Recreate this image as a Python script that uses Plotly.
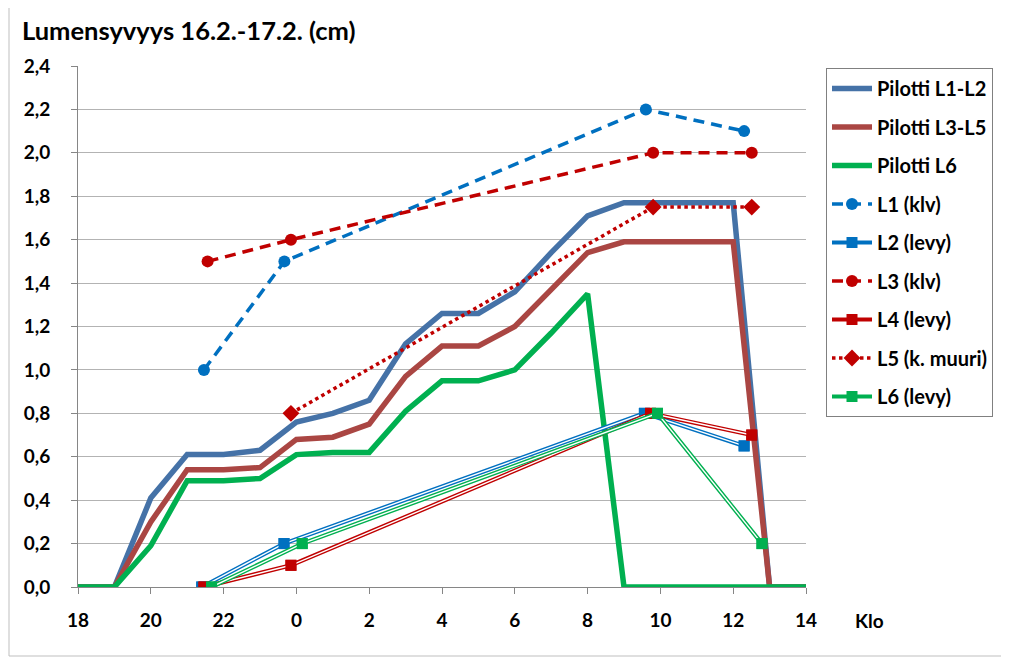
import plotly.graph_objects as go

# ---------------- data ----------------
hours = list(range(18, 39))  # 18:00 .. 14:00 next day (hours since midnight of day 1)
pilotti_l1_l2 = [0, 0, 0.41, 0.61, 0.61, 0.63, 0.76, 0.80, 0.86, 1.12, 1.26, 1.26, 1.36, 1.54, 1.71, 1.77, 1.77, 1.77, 1.77, 0, 0]
pilotti_l3_l5 = [0, 0, 0.30, 0.54, 0.54, 0.55, 0.68, 0.69, 0.75, 0.97, 1.11, 1.11, 1.20, 1.37, 1.54, 1.59, 1.59, 1.59, 1.59, 0, 0]
pilotti_l6 = [0, 0, 0.19, 0.49, 0.49, 0.50, 0.61, 0.62, 0.62, 0.81, 0.95, 0.95, 1.00, 1.17, 1.35, 0, 0, 0, 0, 0, 0]

l1_x = [21.46, 23.67, 33.60, 36.30]
l1_y = [1.0, 1.5, 2.2, 2.1]
l2_x = [21.40, 23.66, 33.56, 36.30]
l2_y = [0.0, 0.2, 0.8, 0.65]
l3_x = [21.56, 23.85, 33.80, 36.51]
l3_y = [1.5, 1.6, 2.0, 2.0]
l4_x = [21.46, 23.85, 33.73, 36.51]
l4_y = [0.0, 0.1, 0.8, 0.7]
l5_x = [23.85, 33.80, 36.51]
l5_y = [0.8, 1.75, 1.75]
l6_x = [21.67, 24.16, 33.92, 36.79]
l6_y = [0.0, 0.2, 0.8, 0.2]

x_tickvals = list(range(18, 39, 2))
x_ticktext = ["18", "20", "22", "0", "2", "4", "6", "8", "10", "12", "14"]
y_tickvals = [round(0.2 * i, 1) for i in range(13)]

title_text = "Lumensyvyys 16.2.-17.2. (cm)"
x_unit = "Klo"

# ---------------- styles ----------------
FONT = "Lato"
C_BLUE_THICK = "#4572A7"
C_RED_THICK = "#AA4643"
C_GREEN = "#00B050"
C_BLUE = "#0070C0"
C_RED = "#C00000"

fig = go.Figure()

def thick(name, y, color):
    fig.add_trace(go.Scatter(x=hours, y=y, mode="lines", name=name, legendgroup=name,
                             line=dict(color=color, width=5.5)))

thick("Pilotti L1-L2", pilotti_l1_l2, C_BLUE_THICK)
thick("Pilotti L3-L5", pilotti_l3_l5, C_RED_THICK)
thick("Pilotti L6", pilotti_l6, C_GREEN)

def dashed(name, x, y, color, dash, symbol, size):
    fig.add_trace(go.Scatter(x=x, y=y, mode="lines+markers", name=name, legendgroup=name,
                             line=dict(color=color, width=3.5, dash=dash),
                             marker=dict(symbol=symbol, size=size, color=color)))

def double(name, x, y, color):
    fig.add_trace(go.Scatter(x=x, y=y, mode="lines+markers", name=name, legendgroup=name,
                             line=dict(color=color, width=4.2),
                             marker=dict(symbol="square", size=11, color=color)))
    fig.add_trace(go.Scatter(x=x, y=y, mode="lines", showlegend=False, legendgroup=name,
                             hoverinfo="skip", line=dict(color="white", width=1.4)))
    fig.add_trace(go.Scatter(x=x, y=y, mode="markers", showlegend=False, legendgroup=name,
                             hoverinfo="skip", marker=dict(symbol="square", size=11, color=color)))

dashed("L1 (klv)", l1_x, l1_y, C_BLUE, "11px,7px", "circle", 12)
double("L2 (levy)", l2_x, l2_y, C_BLUE)
dashed("L3 (klv)", l3_x, l3_y, C_RED, "11px,7px", "circle", 12)
double("L4 (levy)", l4_x, l4_y, C_RED)
dashed("L5 (k. muuri)", l5_x, l5_y, C_RED, "dot", "diamond", 13)
double("L6 (levy)", l6_x, l6_y, C_GREEN)

# page body has an 8px margin; work in screen pixels and convert
OFF = 8
W, H = 1009 - OFF, 661 - OFF
L, T = 78 - OFF, 66 - OFF
R = W - (806 - OFF)
B = H - (587 - OFF)
pw, ph = W - L - R, H - T - B

def px(xs):
    return (xs - OFF - L) / pw

def py(ys):
    return (H - B - (ys - OFF)) / ph

fig.update_layout(
    width=W, height=H,
    margin=dict(l=L, r=R, t=T, b=B),
    paper_bgcolor="white", plot_bgcolor="white",
    separators=", ",
    font=dict(family=FONT, size=16, color="black"),
    showlegend=True,
    legend=dict(x=px(826), y=py(68), xanchor="left", yanchor="top",
                bordercolor="#808080", borderwidth=1, bgcolor="white",
                font=dict(family=FONT, size=20, color="black", weight="bold"),
                tracegroupgap=9.5, itemwidth=40, traceorder="grouped"),
    xaxis=dict(range=[18, 38], tickvals=x_tickvals, ticktext=x_ticktext,
               showgrid=False, zeroline=False, showline=True, linecolor="#868686", linewidth=1,
               ticks="outside", ticklen=6, tickcolor="#868686",
               tickfont=dict(family=FONT, size=19, color="black", weight="bold"),
               ticklabelstandoff=10),
    yaxis=dict(range=[0, 2.4], tickvals=y_tickvals, tickformat=".1f",
               showgrid=True, gridcolor="#B3B3B3", gridwidth=1,
               zeroline=False, showline=True, linecolor="#868686", linewidth=1,
               ticks="outside", ticklen=6, tickcolor="#868686",
               tickfont=dict(family=FONT, size=19, color="black", weight="bold"),
               ticklabelstandoff=17),
    shapes=[dict(type="rect", xref="paper", yref="paper",
                 x0=px(9), x1=px(1004), y0=py(656), y1=py(4),
                 line=dict(color="#BFBFBF", width=1), layer="below")],
    annotations=[
        dict(text=title_text, xref="paper", yref="paper", x=px(20), y=py(30),
             xanchor="left", yanchor="middle", showarrow=False,
             font=dict(family=FONT, size=25.5, color="black", weight="bold")),
        dict(text=x_unit, xref="paper", yref="paper", x=px(870), y=py(620),
             xanchor="center", yanchor="middle", showarrow=False,
             font=dict(family=FONT, size=19, color="black", weight="bold")),
    ],
)

fig.write_html("out.html")
